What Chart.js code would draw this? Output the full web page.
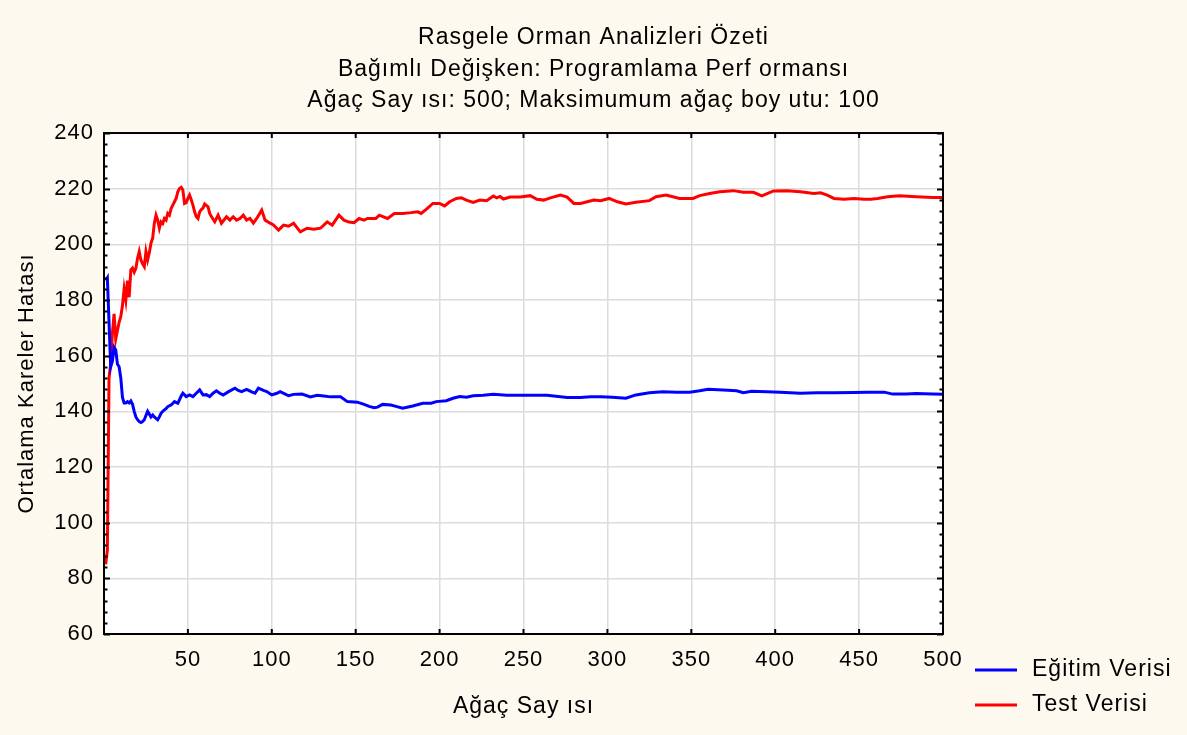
<!DOCTYPE html>
<html>
<head>
<meta charset="utf-8">
<script src="https://cdn.jsdelivr.net/npm/chart.js@4"></script>
<style>
  html, body { margin: 0; padding: 0; background: #fef9ee; }
</style>
</head>
<body>
<canvas id="chart" width="1187" height="735"></canvas>
<script>
// Ağaç sayısı (x) ve ortalama kareler hatası (y)
const trainTrees = [1, 2, 3, 4, 5, 6, 7, 8, 9, 10, 11, 12, 13, 14, 15, 16, 17, 18, 19, 20,
  21, 22, 23, 24, 25, 26, 27, 28, 29, 30, 31, 32, 33, 34, 35, 36, 37, 38, 39, 40,
  42, 44, 46, 47, 49, 51, 53, 55, 57, 59, 61, 63, 65, 67, 69, 71, 74, 78, 80, 82,
  85, 88, 90, 92, 95, 97, 100, 103, 105, 108, 110, 113, 118, 123, 127, 131, 135, 141, 145, 151,
  155, 158, 161, 163, 166, 171, 174, 178, 184, 190, 195, 198, 204, 208, 212, 216, 220, 226, 232, 240,
  248, 256, 264, 268, 276, 284, 290, 296, 303, 311, 317, 325, 333, 341, 349, 355, 360, 369, 377, 381,
  386, 395, 403, 415, 425, 435, 447, 455, 465, 470, 478, 484, 494, 500];
const trainMse = [187, 188, 172, 156, 158, 163, 162, 157, 156, 152, 145, 143, 143, 143.5, 143, 143.7, 142.5, 140, 138, 137,
  136.3, 136, 136.3, 137, 138.5, 140, 139, 138, 138.7, 138, 137.5, 137, 138, 139.3, 140, 140.5, 141, 141.7, 142, 142.3,
  143.5, 142.9, 145.5, 146.5, 145.3, 145.9, 145.3, 146.5, 147.7, 145.9, 146, 145.3, 146.5, 147.4, 146.5, 145.9, 147, 148.3, 147.5, 147.1,
  147.9, 147, 146.5, 148.3, 147.5, 147.1, 145.9, 146.5, 147.1, 146.2, 145.6, 146.1, 146.2, 145.2, 145.8, 145.5, 145.2, 145.2, 143.5, 143.3,
  142.5, 141.8, 141.3, 141.5, 142.5, 142.3, 141.8, 141.1, 141.9, 142.9, 142.9, 143.5, 143.8, 144.7, 145.3, 145.1, 145.6, 145.8, 146.1, 145.8,
  145.8, 145.8, 145.8, 145.5, 145, 145, 145.2, 145.2, 145.1, 144.7, 145.9, 146.7, 147, 146.9, 146.9, 147.4, 147.9, 147.7, 147.4, 146.7,
  147.2, 147, 146.9, 146.5, 146.7, 146.7, 146.8, 146.9, 146.9, 146.2, 146.2, 146.4, 146.2, 146.1];

const testTrees = [1, 2, 3, 4, 5, 6, 7, 8, 9, 10, 11, 12, 13, 14, 15, 16, 17, 18, 19, 20,
  21, 22, 23, 24, 25, 26, 27, 28, 29, 30, 31, 32, 33, 34, 35, 36, 37, 38, 39, 40,
  41, 42, 43, 44, 45, 46, 47, 48, 49, 50, 51, 52, 53, 54, 55, 56, 57, 58, 59, 60,
  61, 62, 63, 64, 66, 68, 70, 73, 75, 77, 79, 81, 83, 85, 87, 89, 91, 94, 96, 99,
  101, 104, 107, 110, 113, 117, 121, 125, 129, 133, 136, 140, 143, 146, 149, 152, 155, 157, 162, 164,
  169, 173, 178, 183, 187, 189, 192, 196, 200, 203, 206, 210, 213, 216, 220, 224, 228, 232, 234, 236,
  238, 242, 248, 254, 258, 262, 266, 272, 276, 280, 284, 288, 292, 296, 301, 306, 311, 317, 325, 329,
  335, 343, 351, 355, 361, 367, 375, 381, 387, 392, 399, 407, 415, 423, 427, 431, 435, 441, 447, 453,
  457, 461, 467, 474, 484, 494, 500];
const testMse = [85, 90, 152, 157, 168, 175, 166, 169, 172, 174, 178, 184, 180, 187, 181, 190.8, 191.5, 190, 191.4, 195,
  197.4, 194.4, 193, 192, 197.4, 194.4, 197, 200.4, 202.2, 207.6, 210.5, 208.7, 205.8, 208.1, 207.5, 209.3, 208.7, 211.1, 210.5, 212.9,
  214.1, 215.3, 216.5, 218.9, 220.1, 220.5, 219.5, 214.7, 215, 216.5, 217.7, 216, 214.1, 211.7, 209.9, 209.3, 211.7, 212.5, 213, 214.5,
  214, 213.5, 211.1, 210, 208.1, 210.5, 207.6, 209.9, 208.7, 209.9, 208.7, 209.3, 210.5, 208.7, 209.3, 207.6, 209.3, 212.3, 208.7, 207.6,
  207, 205.1, 206.9, 206.5, 207.6, 204.5, 205.8, 205.4, 205.8, 208.1, 206.9, 210.5, 208.7, 208, 207.8, 209.3, 208.7, 209.3, 209.3, 210.5,
  209.3, 211.1, 211.1, 211.4, 211.7, 211.1, 212.6, 214.7, 214.7, 213.8, 215.3, 216.5, 216.7, 215.9, 215.1, 215.9, 215.7, 217.4, 216.7, 217.2,
  216.3, 217, 217, 217.5, 216.2, 215.9, 216.7, 217.7, 217, 214.7, 214.7, 215.3, 215.9, 215.7, 216.5, 215.3, 214.5, 215.1, 215.7, 217.1,
  217.7, 216.5, 216.5, 217.5, 218.3, 218.9, 219.3, 218.7, 218.7, 217.4, 219.2, 219.3, 218.9, 218.3, 218.5, 217.7, 216.5, 216.2, 216.5, 216.2,
  216.2, 216.5, 217.1, 217.5, 217.1, 216.8, 216.8];

const seriesLabels = ["Eğitim Verisi", "Test Verisi"];
const titleLines = [
  "Rasgele Orman Analizleri Özeti",
  "Bağımlı Değişken: Programlama Perf ormansı",
  "Ağaç Say ısı: 500; Maksimumum ağaç boy utu: 100"
];
const xTitle = "Ağaç Say ısı";
const yTitle = "Ortalama Kareler Hatası";

const FONT = "'Liberation Sans', Arial, sans-serif";
const BG = "#fef9ee";

const toPoints = (xs, ys) => xs.map((x, i) => ({ x: x, y: ys[i] }));

// kağıt rengi arka plan, beyaz çizim alanı, çerçeve, iç çentikler ve lejant
const frame = {
  id: "frame",
  beforeDraw(chart) {
    const { ctx, chartArea: a } = chart;
    ctx.letterSpacing = "1px";
    ctx.save();
    ctx.fillStyle = BG;
    ctx.fillRect(0, 0, chart.width, chart.height);
    ctx.fillStyle = "#ffffff";
    ctx.fillRect(a.left, a.top, a.right - a.left, a.bottom - a.top);
    ctx.restore();
  },
  afterDraw(chart) {
    const { ctx, chartArea: a } = chart;
    const x = chart.scales.x, y = chart.scales.y;
    ctx.save();
    ctx.strokeStyle = "#000";
    ctx.lineWidth = 2;
    ctx.strokeRect(a.left, a.top, a.right - a.left, a.bottom - a.top);
    ctx.beginPath();
    for (let v = y.min; v <= y.max; v += 4) {
      const py = Math.round(y.getPixelForValue(v)) + 0.5;
      const len = v % 20 === 0 ? 6 : 3.5;
      ctx.moveTo(a.left, py); ctx.lineTo(a.left + len, py);
      ctx.moveTo(a.right, py); ctx.lineTo(a.right - len, py);
    }
    x.ticks.forEach((t) => {
      const px = x.getPixelForValue(t.value);
      ctx.moveTo(px, a.top); ctx.lineTo(px, a.top + 5);
      ctx.moveTo(px, a.bottom); ctx.lineTo(px, a.bottom - 5);
    });
    ctx.stroke();

    // lejant
    ctx.font = "23px " + FONT;
    ctx.textBaseline = "middle";
    ctx.textAlign = "left";
    ctx.fillStyle = "#000";
    chart.data.datasets.forEach((ds, i) => {
      const ly = 670 + i * 35;
      ctx.beginPath();
      ctx.strokeStyle = ds.borderColor;
      ctx.lineWidth = 3;
      ctx.moveTo(a.right + 32, ly);
      ctx.lineTo(a.right + 74, ly);
      ctx.stroke();
      ctx.fillText(ds.label, a.right + 89, ly);
    });
    ctx.restore();
  }
};

new Chart(document.getElementById("chart"), {
  type: "line",
  data: {
    datasets: [
      {
        label: seriesLabels[0],
        data: toPoints(trainTrees, trainMse),
        yAxisID: "y",
        borderColor: "#0000ff",
        borderWidth: 3,
        pointRadius: 0,
        tension: 0,
        fill: false,
      },
      {
        label: seriesLabels[1],
        data: toPoints(testTrees, testMse),
        yAxisID: "y",
        borderColor: "#ff0000",
        borderWidth: 3,
        pointRadius: 0,
        tension: 0,
        fill: false,
      },
    ],
  },
  options: {
    responsive: false,
    animation: false,
    devicePixelRatio: 1,
    layout: { padding: 0 },
    scales: {
      x: {
        type: "linear",
        min: 0,
        max: 500,
        ticks: {
          stepSize: 50,
          padding: 13,
          color: "#000",
          maxRotation: 0,
          font: { family: FONT, size: 22 },
          callback: (v) => (v === 0 ? "" : v),
        },
        grid: { color: "#dcdcdc", lineWidth: 1.5, drawTicks: false },
        border: { display: false },
        title: {
          display: true,
          text: xTitle,
          color: "#000",
          font: { family: FONT, size: 23 },
          padding: { top: 0, bottom: 15 },
        },
        afterFit(scale) {
          scale.height = 101;
          scale.paddingLeft = 0;
          scale.paddingRight = 0;
        },
      },
      y: {
        min: 60,
        max: 240,
        ticks: {
          stepSize: 20,
          padding: 10,
          color: "#000",
          font: { family: FONT, size: 22 },
        },
        grid: { color: "#dcdcdc", lineWidth: 1.5, drawTicks: false },
        border: { display: false },
        title: {
          display: true,
          text: yTitle,
          color: "#000",
          font: { family: FONT, size: 22 },
          padding: { top: 14, bottom: 0 },
        },
        afterFit(scale) {
          scale.width = 104;
          scale.paddingTop = 0;
          scale.paddingBottom = 0;
        },
      },
      // lejant için sağda boş alan
      side: {
        position: "right",
        display: true,
        grid: { display: false },
        ticks: { display: false },
        border: { display: false },
        afterFit(scale) {
          scale.width = 244;
          scale.paddingTop = 0;
          scale.paddingBottom = 0;
        },
      },
    },
    plugins: {
      legend: { display: false },
      tooltip: { enabled: false },
      title: {
        display: true,
        text: titleLines,
        color: "#000",
        font: { family: FONT, size: 23, weight: "normal", lineHeight: 1.37 },
        padding: { top: 22, bottom: 16.5 },
      },
    },
  },
  plugins: [frame],
});
</script>
</body>
</html>
